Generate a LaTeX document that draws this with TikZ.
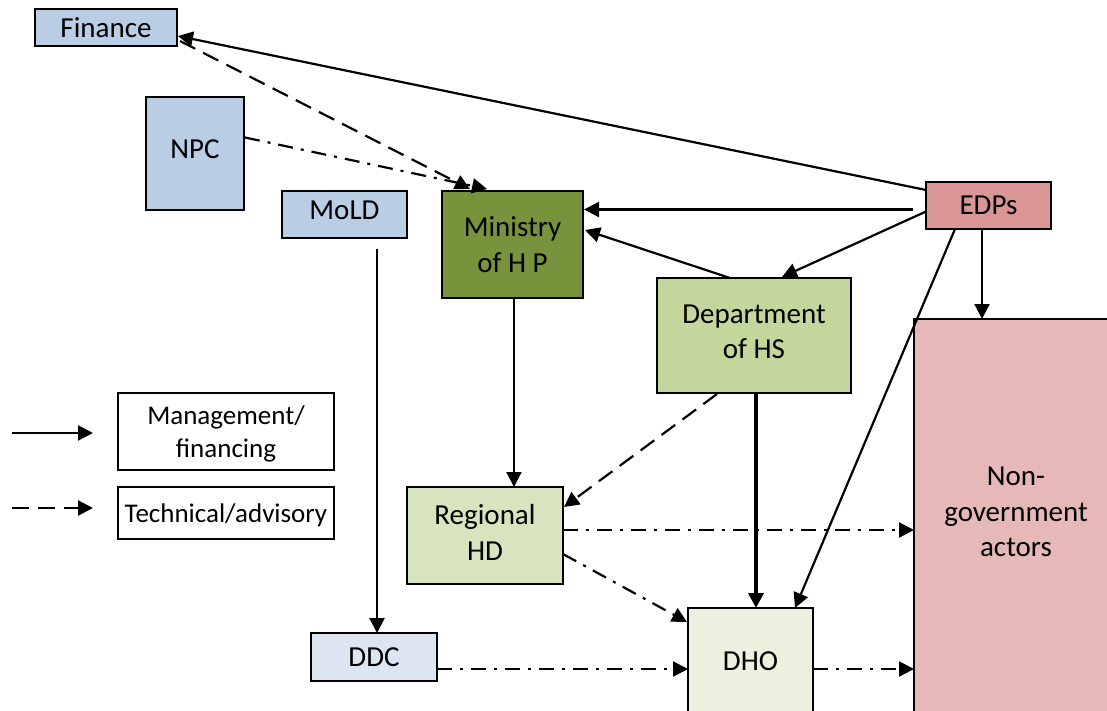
\documentclass[tikz,border=0pt]{standalone}
\usepackage{fontspec}
\setmainfont{Carlito}
\usetikzlibrary{arrows.meta,calc}

\definecolor{finblue}{HTML}{B9CDE5}
\definecolor{ddcblue}{HTML}{DCE6F2}
\definecolor{mingreen}{HTML}{77933C}
\definecolor{dhsgreen}{HTML}{C3D69B}
\definecolor{rhdgreen}{HTML}{D7E4BD}
\definecolor{dhogreen}{HTML}{EBF1DE}
\definecolor{edpred}{HTML}{D99694}
\definecolor{ngopink}{HTML}{E6B9B8}

\begin{document}
\begin{tikzpicture}[x=1pt,y=-1pt,
  box/.style={draw=black, line width=2pt, anchor=north west, inner sep=0pt,
    outer sep=0pt, align=center, font=\fontsize{29}{35.4}\selectfont},
  legendbox/.style={box, fill=white, text depth=0pt,
    font=\fontsize{27}{32.8}\selectfont},
  conn/.style={line width=2.2pt, -{Triangle[length=15pt,width=15pt]}},
  mgmt/.style={conn},
  tech/.style={conn, dash pattern=on 17pt off 9pt},
  link/.style={conn, dash pattern=on 15pt off 8pt on 3pt off 8pt},
]
\clip (0,0) rectangle (1107,711);

% organisations
\node[box, fill=finblue, minimum width=142pt, minimum height=37pt] (fin) at (35,9) {Finance};
\node[box, fill=finblue, minimum width=98pt, minimum height=113pt, text depth=9.6pt] (npc) at (146,97) {NPC};
\node[box, fill=finblue, minimum width=125pt, minimum height=47pt, text depth=8pt] (mold) at (282,191) {MoLD};
\node[box, fill=mingreen, minimum width=141pt, minimum height=107pt] (min) at (442,191) {Ministry\\of H P};
\node[box, fill=edpred, minimum width=125pt, minimum height=47pt] (edp) at (926,182) {EDPs};
\node[box, fill=dhsgreen, minimum width=194pt, minimum height=115pt, text depth=7.6pt] (dhs) at (657,278) {Department\\of HS};
\node[box, fill=ngopink, minimum width=204pt, minimum height=401pt, text depth=15pt] (ngo) at (914,319) {Non-\\government\\actors};
\node[box, fill=rhdgreen, minimum width=156pt, minimum height=97pt, text depth=6pt] (rhd) at (407,487) {Regional\\HD};
\node[box, fill=dhogreen, minimum width=125pt, minimum height=106pt] (dho) at (688,608) {DHO};
\node[box, fill=ddcblue, minimum width=126pt, minimum height=48pt] (ddc) at (311,633) {DDC};

% legend
\node[legendbox, minimum width=216pt, minimum height=77pt] (leg1) at (118,393) {Management/\\financing};
\node[legendbox, minimum width=216pt, minimum height=52pt] (leg2) at (118,487) {Technical/advisory};
\coordinate (lgAs) at (12,433);
\coordinate (lgAe) at (93,433);
\coordinate (lgBs) at (12,508);
\coordinate (lgBe) at (93,508);
\draw[mgmt] (lgAs) -- (lgAe);
\draw[tech] (lgBs) -- (lgBe);

% management / financing flows
\draw[mgmt] ($(edp.north west)+(0,8)$) -- ($(fin.south east)+(1,-10)$);
\draw[mgmt] ($(edp.west)+(-13,4)$) -- ($(min.north east)+(1,18.5)$);
\draw[mgmt] ($(edp.west)+(0,6)$) -- ($(dhs.north west)+(125,-1)$);
\draw[mgmt] ($(dhs.north west)+(73,0)$) -- ($(min.north east)+(2,39)$);
\draw[mgmt] ($(edp.south west)+(56,0)$) -- ($(ngo.north west)+(68,0)$);
\draw[mgmt] ($(edp.south west)+(29,0)$) -- ($(dho.north west)+(107,0)$);
\draw[mgmt] ($(min.south west)+(72,0)$) -- ($(rhd.north west)+(107,0)$);
\draw[mgmt, line width=4pt] ($(dhs.south west)+(99,0)$) -- ($(dho.north west)+(68,0)$);
\draw[mgmt] ($(mold.south west)+(95,11)$) -- ($(ddc.north west)+(66,0)$);

% technical / advisory flows
\draw[tech] ($(fin.south east)+(3,-5)$) -- ($(min.north west)+(28,-2)$);
\draw[tech] ($(dhs.south west)+(60,1)$) -- ($(rhd.north east)+(1,20)$);

% coordination links
\draw[link] ($(npc.east)+(1,-16)$) -- ($(min.north west)+(45,-2)$);
\draw[link] ($(rhd.north east)+(0,43)$) -- ($(ngo.north west)+(0,211)$);
\draw[link] ($(rhd.north east)+(0,67)$) -- ($(dho.north west)+(-1,14)$);
\draw[link] ($(ddc.south east)+(0,-12)$) -- ($(dho.north west)+(0,61)$);
\draw[link] ($(dho.north east)+(0,61)$) -- ($(ngo.north west)+(0,350)$);
\end{tikzpicture}
\end{document}
